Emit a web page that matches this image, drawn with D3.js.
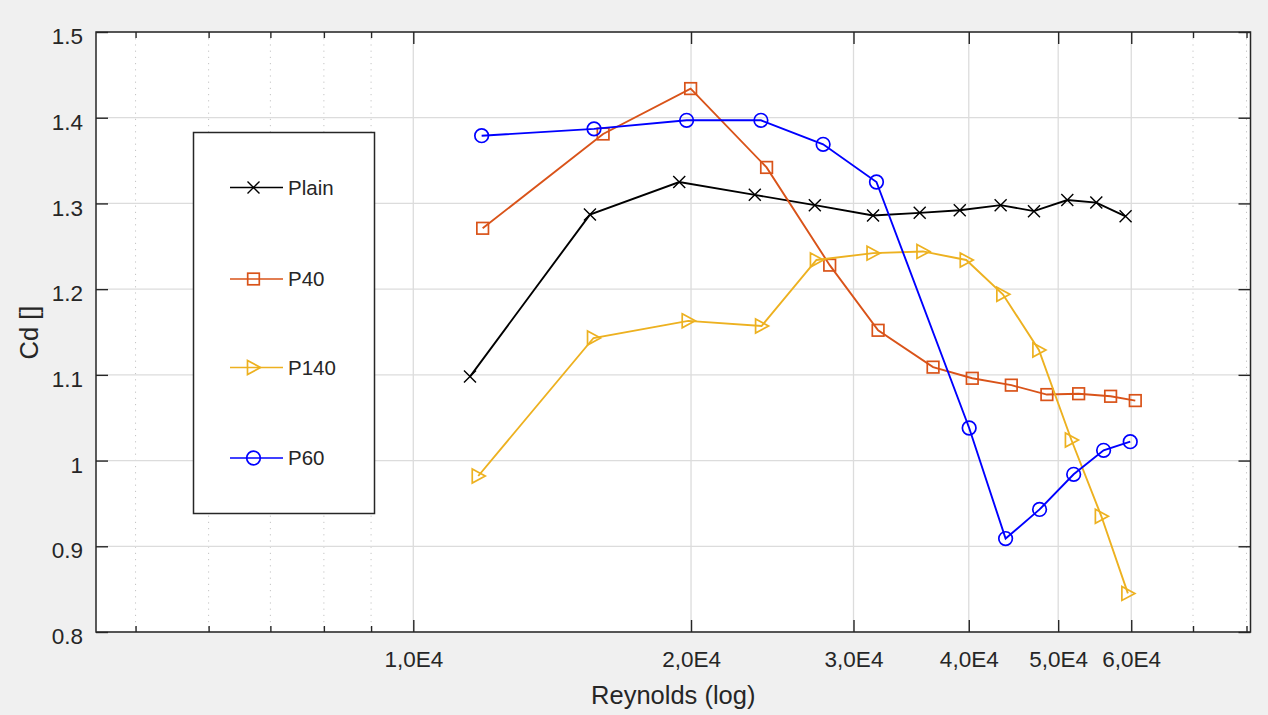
<!DOCTYPE html>
<html>
<head>
<meta charset="utf-8">
<script src="https://cdn.jsdelivr.net/npm/d3@7"></script>
<style>
  html, body { margin: 0; padding: 0; background: #f0f0f0; }
  svg { display: block; }
  text { font-family: "Liberation Sans", Arial, Helvetica, sans-serif; fill: #262626; }
</style>
</head>
<body>
<svg id="chart" width="1268" height="715"></svg>
<script>
// ---- data ----
const seriesNames = ["Plain", "P40", "P140", "P60"];

const plainRe = [11520, 15540, 19420, 23450, 27240, 31500, 35390, 39110, 43310, 47070, 51150, 54990, 59160];
const plainCd = [1.098, 1.287, 1.325, 1.310, 1.298, 1.286, 1.289, 1.292, 1.298, 1.291, 1.304, 1.301, 1.285];

const p40Re = [11890, 16060, 19980, 24150, 28270, 31900, 36590, 40350, 44480, 48610, 52620, 56990, 60610];
const p40Cd = [1.271, 1.381, 1.434, 1.342, 1.228, 1.152, 1.109, 1.096, 1.088, 1.077, 1.078, 1.075, 1.070];

const p140Re = [11760, 15680, 19860, 23850, 27350, 31500, 35680, 39750, 43550, 47650, 51680, 55690, 59500];
const p140Cd = [0.982, 1.143, 1.163, 1.157, 1.234, 1.242, 1.244, 1.234, 1.194, 1.129, 1.024, 0.935, 0.845];

const p60Re = [11860, 15700, 19780, 23810, 27810, 31770, 40040, 43850, 47730, 51970, 56000, 59850];
const p60Cd = [1.379, 1.387, 1.397, 1.397, 1.369, 1.325, 1.038, 0.909, 0.943, 0.984, 1.012, 1.022];

const xMajorTicks = [10000, 20000, 30000, 40000, 50000, 60000];
const xMajorLabels = ["1,0E4", "2,0E4", "3,0E4", "4,0E4", "5,0E4", "6,0E4"];
const xMinorTicks = [5000, 6000, 7000, 8000, 9000, 70000, 80000];
const yTicks = [0.8, 0.9, 1.0, 1.1, 1.2, 1.3, 1.4, 1.5];
const yTickLabels = ["0.8", "0.9", "1", "1.1", "1.2", "1.3", "1.4", "1.5"];
const xLabel = "Reynolds (log)";
const yLabel = "Cd []";

// ---- layout ----
const L = 96, R = 1250.5, T = 32, B = 632;
const svg = d3.select("#chart");
const x = d3.scaleLog().domain([4530, 80800]).range([L, R]);
const y = d3.scaleLinear().domain([0.8, 1.5]).range([B, T]);

svg.append("rect").attr("width", 1268).attr("height", 715).attr("fill", "#f0f0f0");
svg.append("rect").attr("x", L).attr("y", T).attr("width", R - L).attr("height", B - T).attr("fill", "#ffffff");

// grid
const grid = svg.append("g");
grid.selectAll(".gx").data(xMajorTicks).join("line")
  .attr("x1", d => x(d)).attr("x2", d => x(d)).attr("y1", T).attr("y2", B)
  .attr("stroke", "#dcdcdc").attr("stroke-width", 1.3);
grid.selectAll(".gxm").data(xMinorTicks).join("line")
  .attr("x1", d => x(d)).attr("x2", d => x(d)).attr("y1", T).attr("y2", B)
  .attr("stroke", "#c4c4c4").attr("stroke-width", 1).attr("stroke-dasharray", "1.2,5");
grid.selectAll(".gy").data(yTicks).join("line")
  .attr("x1", L).attr("x2", R).attr("y1", d => y(d)).attr("y2", d => y(d))
  .attr("stroke", "#dcdcdc").attr("stroke-width", 1.3);

// axes (d3 axes, inward ticks)
const axisColor = "#262626";
const font = "'Liberation Sans', Arial, sans-serif";
function styleAxis(g) {
  g.select(".domain").remove();
  g.selectAll(".tick line").attr("stroke", axisColor).attr("stroke-width", 1.4);
}
const fmtX = d => xMajorLabels[xMajorTicks.indexOf(d)];
const fmtY = d => yTickLabels[yTicks.findIndex(v => Math.abs(v - d) < 1e-9)];

const xBottom = svg.append("g").attr("transform", `translate(0,${B})`)
  .call(d3.axisBottom(x).tickValues(xMajorTicks).tickFormat(fmtX).tickSizeInner(-12).tickSizeOuter(0));
styleAxis(xBottom);
xBottom.selectAll(".tick text").attr("y", 35).attr("dy", null)
  .attr("font-size", 22.5).attr("fill", "#333333").style("font-family", font);

const xBottomMinor = svg.append("g").attr("transform", `translate(0,${B})`)
  .call(d3.axisBottom(x).tickValues(xMinorTicks).tickFormat("").tickSizeInner(-6).tickSizeOuter(0));
styleAxis(xBottomMinor);

const xTop = svg.append("g").attr("transform", `translate(0,${T})`)
  .call(d3.axisTop(x).tickValues(xMajorTicks).tickFormat("").tickSizeInner(-12).tickSizeOuter(0));
styleAxis(xTop);
const xTopMinor = svg.append("g").attr("transform", `translate(0,${T})`)
  .call(d3.axisTop(x).tickValues(xMinorTicks).tickFormat("").tickSizeInner(-6).tickSizeOuter(0));
styleAxis(xTopMinor);

const yLeft = svg.append("g").attr("transform", `translate(${L},0)`)
  .call(d3.axisLeft(y).tickValues(yTicks).tickFormat(fmtY).tickSizeInner(-12).tickSizeOuter(0));
styleAxis(yLeft);
yLeft.selectAll(".tick text").attr("x", -13).attr("dy", "0.52em")
  .attr("font-size", 22.5).attr("fill", "#333333").style("font-family", font);

const yRight = svg.append("g").attr("transform", `translate(${R},0)`)
  .call(d3.axisRight(y).tickValues(yTicks).tickFormat("").tickSizeInner(-12).tickSizeOuter(0));
styleAxis(yRight);

// box
svg.append("rect").attr("x", L).attr("y", T).attr("width", R - L).attr("height", B - T)
  .attr("fill", "none").attr("stroke", axisColor).attr("stroke-width", 1.5);

// axis labels
svg.append("text").attr("x", (L + R) / 2).attr("y", 704).attr("text-anchor", "middle")
  .attr("font-size", 25.5).attr("fill", "#333333").text(xLabel);
svg.append("text").attr("transform", "translate(38,332.5) rotate(-90)").attr("text-anchor", "middle")
  .attr("font-size", 25.5).attr("fill", "#333333").text(yLabel);

// ---- series ----
const series = [
  { name: seriesNames[0], re: plainRe, cd: plainCd, color: "#000000", marker: "x" },
  { name: seriesNames[1], re: p40Re, cd: p40Cd, color: "#D95319", marker: "square" },
  { name: seriesNames[2], re: p140Re, cd: p140Cd, color: "#EDB120", marker: "tri" },
  { name: seriesNames[3], re: p60Re, cd: p60Cd, color: "#0000FF", marker: "circle" }
];

function drawMarker(g, type, cx, cy, color) {
  if (type === "x") {
    const s = 6;
    g.append("path").attr("d", `M${cx - s},${cy - s}L${cx + s},${cy + s}M${cx - s},${cy + s}L${cx + s},${cy - s}`)
      .attr("stroke", color).attr("stroke-width", 1.4).attr("fill", "none");
  } else if (type === "square") {
    const s = 5.8;
    g.append("rect").attr("x", cx - s).attr("y", cy - s).attr("width", 2 * s).attr("height", 2 * s)
      .attr("stroke", color).attr("stroke-width", 1.7).attr("fill", "none");
  } else if (type === "tri") {
    g.append("path").attr("d", `M${cx - 6},${cy - 7}L${cx + 7},${cy}L${cx - 6},${cy + 7}Z`)
      .attr("stroke", color).attr("stroke-width", 1.7).attr("fill", "none");
  } else if (type === "circle") {
    g.append("circle").attr("cx", cx).attr("cy", cy).attr("r", 6.8)
      .attr("stroke", color).attr("stroke-width", 1.7).attr("fill", "none");
  }
}

const line = d3.line().x(d => x(d[0])).y(d => y(d[1]));
const plot = svg.append("g");
series.forEach(s => {
  const pts = s.re.map((r, i) => [r, s.cd[i]]);
  const g = plot.append("g");
  g.append("path").attr("d", line(pts)).attr("fill", "none")
    .attr("stroke", s.color).attr("stroke-width", 1.9);
  pts.forEach(p => drawMarker(g, s.marker, x(p[0]), y(p[1]), s.color));
});

// ---- legend ----
const lg = svg.append("g");
lg.append("rect").attr("x", 193.5).attr("y", 132.5).attr("width", 181).attr("height", 381)
  .attr("fill", "#ffffff").attr("stroke", axisColor).attr("stroke-width", 1.5);
const legendY = [187.5, 279, 367.5, 458];
series.forEach((s, i) => {
  const ly = legendY[i];
  lg.append("line").attr("x1", 230).attr("x2", 283).attr("y1", ly).attr("y2", ly)
    .attr("stroke", s.color).attr("stroke-width", 1.6);
  drawMarker(lg, s.marker, 253.5, ly, s.color);
  lg.append("text").attr("x", 288).attr("y", ly).attr("dy", "0.36em")
    .attr("font-size", 20.5).attr("fill", "#262626").text(s.name);
});
</script>
</body>
</html>
